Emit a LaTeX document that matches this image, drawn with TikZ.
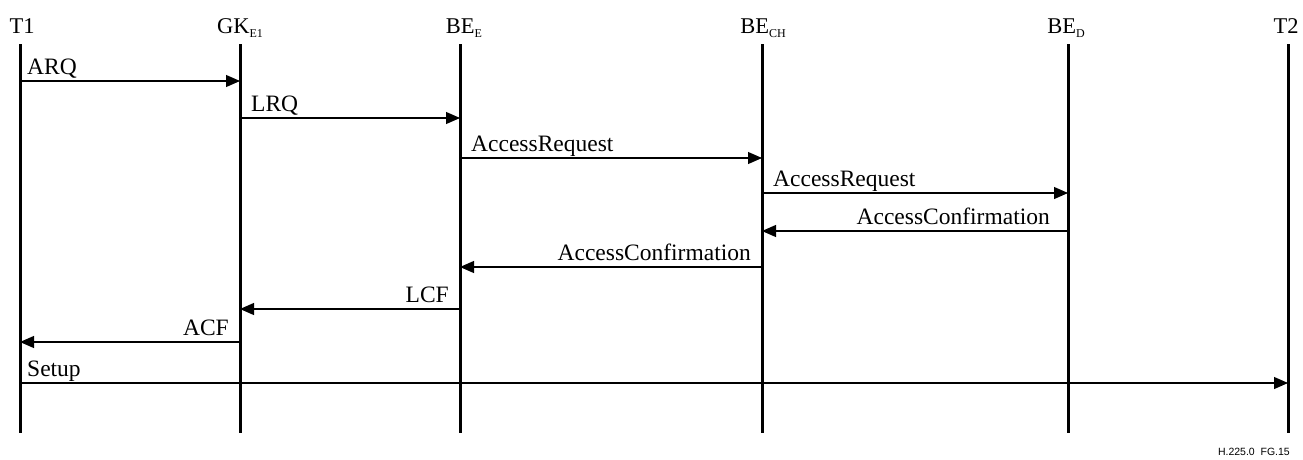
\documentclass[tikz,border=0pt]{standalone}
\usepackage{fontspec}
\setmainfont{Liberation Serif}
\setsansfont{Liberation Sans}
\usetikzlibrary{arrows.meta}
\newcommand{\lsub}[1]{\raisebox{-4pt}{\fontsize{12}{12}\selectfont #1}}
\tikzset{
  life/.style={line width=3pt},
  msg/.style={line width=1.1pt,-{Triangle[length=14pt,width=12pt]}},
  head/.style={anchor=base,inner sep=0pt,font=\fontsize{22.5}{24}\selectfont},
  lbl/.style={inner sep=0pt,font=\fontsize{23.5}{26}\selectfont},
}
\begin{document}
\begin{tikzpicture}[x=1pt,y=-1pt]
\useasboundingbox (0,0) rectangle (1303,459);
% lifelines
\foreach \n/\x in {T1/20,GK/240,BEE/460,BECH/762,BED/1068,T2/1288}{
  \coordinate (\n t) at (\x,44);
  \coordinate (\n b) at (\x,433);
  \draw[life] (\n t) -- (\n b);
}
\node[head] (hT1) at (22,33) {T1};
\node[head] (hGK) at (240,33) {GK\lsub{E1}};
\node[head] (hBEE) at (464,33) {BE\lsub{E}};
\node[head] (hBECH) at (763,33) {BE\lsub{CH}};
\node[head] (hBED) at (1066,33) {BE\lsub{D}};
\node[head] (hT2) at (1286,33) {T2};
% message endpoints
\foreach \n/\x in {T1/20,GK/240,BEE/460,BECH/762,BED/1068,T2/1288}{
  \foreach \m/\y in {a/81,b/118,c/158,d/193,e/231,f/267,g/309,h/342,i/383}{
    \coordinate (\n\m) at (\x,\y);
  }
}
\draw[msg] (T1a) -- (GKa);
\node[lbl,anchor=base west] (l1) at ([xshift=7pt,yshift=7pt]T1a) {ARQ};
\draw[msg] (GKb) -- (BEEb);
\node[lbl,anchor=base west] (l2) at ([xshift=11pt,yshift=7pt]GKb) {LRQ};
\draw[msg] (BEEc) -- (BECHc);
\node[lbl,anchor=base west] (l3) at ([xshift=11pt,yshift=7pt]BEEc) {AccessRequest};
\draw[msg] (BECHd) -- (BEDd);
\node[lbl,anchor=base west] (l4) at ([xshift=11pt,yshift=7pt]BECHd) {AccessRequest};
\draw[msg] (BEDe) -- (BECHe);
\node[lbl,anchor=base east] (l5) at ([xshift=-18pt,yshift=7pt]BEDe) {AccessConfirmation};
\draw[msg] (BECHf) -- (BEEf);
\node[lbl,anchor=base east] (l6) at ([xshift=-11pt,yshift=7pt]BECHf) {AccessConfirmation};
\draw[msg] (BEEg) -- (GKg);
\node[lbl,anchor=base east] (l7) at ([xshift=-11pt,yshift=7pt]BEEg) {LCF};
\draw[msg] (GKh) -- (T1h);
\node[lbl,anchor=base east] (l8) at ([xshift=-11pt,yshift=7pt]GKh) {ACF};
\draw[msg] (T1i) -- (T2i);
\node[lbl,anchor=base west] (l9) at ([xshift=7pt,yshift=7pt]T1i) {Setup};
\node[anchor=base east,inner sep=0pt,font=\sffamily\fontsize{10.5}{12}\selectfont] (fig) at (1290,455) {H.225.0\ \ FG.15};
\end{tikzpicture}
\end{document}
